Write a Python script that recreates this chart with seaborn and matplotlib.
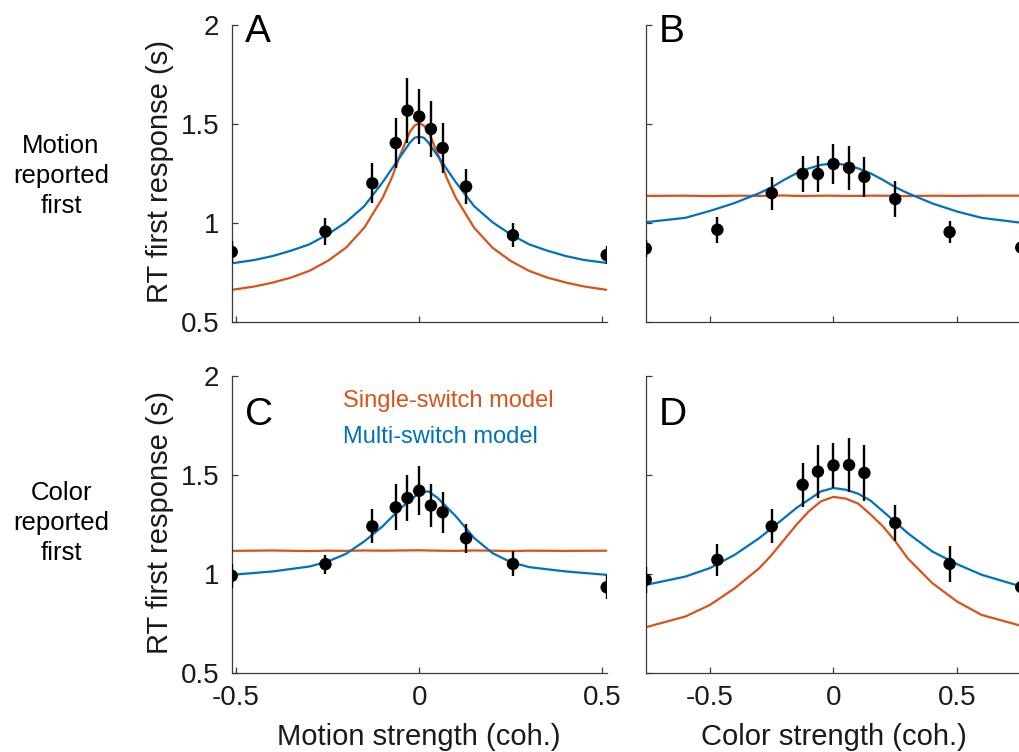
import numpy as np
import pandas as pd
import matplotlib
matplotlib.use("Agg")
import matplotlib.pyplot as plt
import seaborn as sns

# ---------------- data ----------------
motion_coh = [-0.512, -0.256, -0.128, -0.064, -0.032, 0.0, 0.032, 0.064, 0.128, 0.256, 0.512]
color_coh = [-0.76, -0.47, -0.25, -0.125, -0.063, 0.0, 0.063, 0.125, 0.25, 0.47, 0.76]

A_rt = [0.853, 0.956, 1.200, 1.403, 1.567, 1.537, 1.474, 1.378, 1.183, 0.937, 0.837]
A_err = [0.055, 0.068, 0.100, 0.128, 0.165, 0.140, 0.140, 0.128, 0.087, 0.060, 0.044]
B_rt = [0.870, 0.965, 1.150, 1.247, 1.247, 1.297, 1.278, 1.232, 1.120, 0.953, 0.875]
B_err = [0.043, 0.065, 0.083, 0.090, 0.090, 0.100, 0.110, 0.100, 0.090, 0.056, 0.045]
C_rt = [0.990, 1.049, 1.240, 1.336, 1.383, 1.420, 1.345, 1.311, 1.180, 1.050, 0.932]
C_err = [0.062, 0.048, 0.086, 0.116, 0.116, 0.125, 0.110, 0.105, 0.074, 0.063, 0.060]
D_rt = [0.970, 1.071, 1.240, 1.450, 1.517, 1.548, 1.550, 1.510, 1.257, 1.050, 0.933]
D_err = [0.065, 0.080, 0.086, 0.110, 0.133, 0.114, 0.137, 0.143, 0.089, 0.090, 0.060]

A_grid = [-0.512, -0.45, -0.4, -0.35, -0.3, -0.25, -0.2, -0.15, -0.1, -0.075, -0.05, -0.025,
          -0.0125, 0.0, 0.0125, 0.025, 0.05, 0.075, 0.1, 0.15, 0.2, 0.25, 0.3, 0.35, 0.4,
          0.45, 0.512]
A_multi = [0.795, 0.812, 0.832, 0.859, 0.891, 0.941, 1.003, 1.084, 1.205, 1.272, 1.339, 1.406,
           1.430, 1.436, 1.430, 1.406, 1.339, 1.272, 1.205, 1.084, 1.003, 0.941, 0.891, 0.859,
           0.832, 0.812, 0.797]
A_single = [0.661, 0.678, 0.698, 0.723, 0.757, 0.807, 0.874, 0.975, 1.126, 1.227, 1.352, 1.461,
            1.492, 1.503, 1.492, 1.461, 1.352, 1.227, 1.126, 0.975, 0.874, 0.807, 0.757, 0.723,
            0.698, 0.678, 0.661]

C_grid = [-0.512, -0.4, -0.3, -0.25, -0.2, -0.15, -0.1, -0.05, 0.0, 0.025, 0.05, 0.1, 0.15,
          0.2, 0.25, 0.3, 0.4, 0.512]
C_multi = [0.995, 1.012, 1.037, 1.062, 1.101, 1.164, 1.240, 1.333, 1.409, 1.417, 1.384, 1.291,
           1.181, 1.105, 1.059, 1.034, 1.012, 0.995]
C_single = [1.116, 1.118, 1.115, 1.117, 1.116, 1.118, 1.117, 1.118, 1.119, 1.118, 1.117, 1.116,
            1.118, 1.117, 1.115, 1.117, 1.116, 1.117]

BD_grid = [-0.76, -0.6, -0.5, -0.4, -0.3, -0.25, -0.2, -0.15, -0.1, -0.05, 0.0, 0.05, 0.1,
           0.15, 0.2, 0.25, 0.3, 0.4, 0.5, 0.6, 0.76]
B_multi = [1.003, 1.025, 1.060, 1.100, 1.150, 1.180, 1.217, 1.250, 1.275, 1.293, 1.300, 1.293,
           1.275, 1.250, 1.217, 1.180, 1.150, 1.098, 1.057, 1.025, 1.000]
B_single = [1.136, 1.137, 1.135, 1.137, 1.136, 1.137, 1.138, 1.136, 1.136, 1.137, 1.137, 1.136,
            1.136, 1.137, 1.137, 1.136, 1.135, 1.137, 1.136, 1.137, 1.137]
D_multi = [0.944, 0.986, 1.029, 1.096, 1.181, 1.231, 1.282, 1.333, 1.375, 1.417, 1.434, 1.425,
           1.405, 1.370, 1.316, 1.262, 1.206, 1.113, 1.049, 0.995, 0.936]
D_single = [0.730, 0.784, 0.843, 0.927, 1.029, 1.096, 1.172, 1.248, 1.316, 1.367, 1.389, 1.380,
            1.355, 1.300, 1.240, 1.165, 1.079, 0.953, 0.860, 0.792, 0.737]

panel_letters = ["A", "B", "C", "D"]
row_labels = ["Motion\nreported\nfirst", "Color\nreported\nfirst"]
y_ticks = [0.5, 1, 1.5, 2]
y_ticklabels = ["0.5", "1", "1.5", "2"]
motion_ticks = [-0.5, 0, 0.5]
motion_ticklabels = ["-0.5", "0", "0.5"]
color_ticks = [-0.5, 0, 0.5]
color_ticklabels = ["-0.5", "0", "0.5"]
legend_labels = ["Single-switch model", "Multi-switch model"]

# ---------------- style ----------------
sns.set_theme(style="ticks")
plt.rcParams["font.family"] = ["Liberation Sans", "DejaVu Sans"]

BLUE = "#0072BD"
ORANGE = "#D95319"
SPINE = "#3a3a3a"

fig = plt.figure(figsize=(10.19, 7.52), dpi=100)
W = 0.368
H = 0.3946
pos = {
    "A": [0.2274, 0.5722, W, H],
    "B": [0.6337, 0.5722, 0.3685, H],
    "C": [0.2274, 0.1054, W, H],
    "D": [0.6337, 0.1054, 0.3685, H],
}

panels = {
    "A": (motion_coh, A_rt, A_err, A_grid, A_multi, A_single, (-0.512, 0.512)),
    "B": (color_coh, B_rt, B_err, BD_grid, B_multi, B_single, (-0.76, 0.76)),
    "C": (motion_coh, C_rt, C_err, C_grid, C_multi, C_single, (-0.512, 0.512)),
    "D": (color_coh, D_rt, D_err, BD_grid, D_multi, D_single, (-0.76, 0.76)),
}

axes = {}
for key in panel_letters:
    ax = fig.add_axes(pos[key])
    axes[key] = ax
    xs, rt, err, grid, multi, single, xl = panels[key]
    curves = pd.DataFrame({"x": grid + grid,
                           "rt": single + multi,
                           "model": [legend_labels[0]] * len(grid) + [legend_labels[1]] * len(grid)})
    sns.lineplot(data=curves, x="x", y="rt", hue="model",
                 palette={legend_labels[0]: ORANGE, legend_labels[1]: BLUE},
                 estimator=None, sort=False, lw=1.6, legend=False, ax=ax, zorder=2)
    ax.errorbar(xs, rt, yerr=err, fmt="none", ecolor="black", elinewidth=1.7, capsize=0, zorder=3)
    pts = pd.DataFrame({"x": xs, "rt": rt})
    sns.scatterplot(data=pts, x="x", y="rt", color="black", s=80, edgecolor="none",
                    ax=ax, zorder=4, legend=False)
    ax.set_xlim(*xl)
    ax.set_ylim(0.5, 2.0)
    ax.set_yticks(y_ticks)
    for s in ["top", "right"]:
        ax.spines[s].set_visible(False)
    for s in ["left", "bottom"]:
        ax.spines[s].set_color(SPINE)
        ax.spines[s].set_linewidth(0.9)
    ax.tick_params(direction="in", length=4, width=0.9, color=SPINE, labelsize=20,
                   labelcolor="#1a1a1a", pad=9)
    ax.set_xlabel("")
    ax.set_ylabel("")
    if key in ("A", "C"):
        ax.set_yticklabels(y_ticklabels)
        ax.set_xticks(motion_ticks)
        ax.set_ylabel("RT first response (s)", fontsize=21, color="#1a1a1a", va="center")
        ax.yaxis.set_label_coords(-0.19, 0.505)
    else:
        ax.set_yticklabels([])
        ax.set_xticks(color_ticks)
    if key in ("A", "B"):
        ax.set_xticklabels([])
    elif key == "C":
        ax.set_xticklabels(motion_ticklabels)
        ax.set_xlabel("Motion strength (coh.)", fontsize=21, color="#1a1a1a", va="center")
        ax.xaxis.set_label_coords(0.5, -0.217)
    else:
        ax.set_xticklabels(color_ticklabels)
        ax.set_xlabel("Color strength (coh.)", fontsize=21, color="#1a1a1a", va="center")
        ax.xaxis.set_label_coords(0.5, -0.217)

# panel letters
letter_y = {"A": 0.943, "B": 0.943, "C": 0.835, "D": 0.835}
for key in panel_letters:
    axes[key].text(0.035, letter_y[key], key, transform=axes[key].transAxes, fontsize=28,
                   va="baseline", ha="left", color="black", clip_on=False)

# legend text in panel C
axes["C"].text(0.298, 0.8945, legend_labels[0], transform=axes["C"].transAxes, fontsize=17,
               color=ORANGE, va="baseline", ha="left")
axes["C"].text(0.298, 0.775, legend_labels[1], transform=axes["C"].transAxes, fontsize=17,
               color=BLUE, va="baseline", ha="left")

# row labels
fig.text(61 / 1019, 1 - 176 / 752, row_labels[0], ha="center", va="center", fontsize=18.5,
         linespacing=1.32, color="black")
fig.text(61 / 1019, 1 - 523 / 752, row_labels[1], ha="center", va="center", fontsize=18.5,
         linespacing=1.32, color="black")

fig.savefig("out.png", dpi=100)
